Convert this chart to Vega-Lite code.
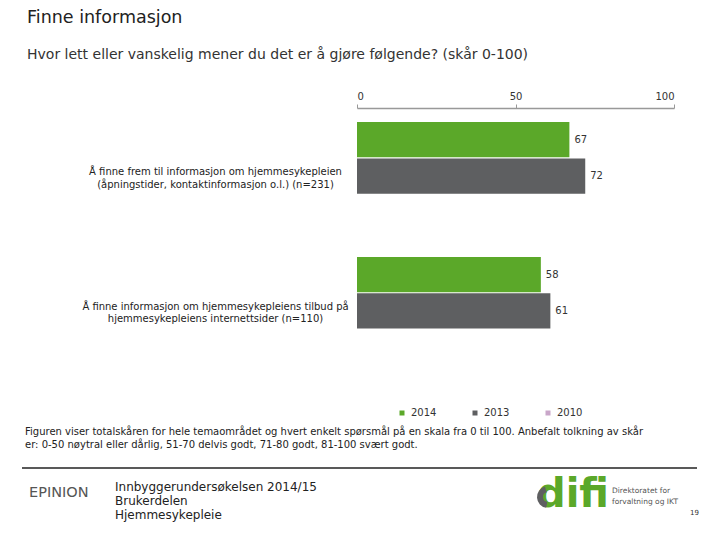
{
  "$schema": "https://vega.github.io/schema/vega-lite/v6.json",
  "autosize": "none",
  "width": 317,
  "height": 271,
  "padding": {"left": 357, "top": 108, "right": 46, "bottom": 161},
  "background": "white",
  "config": {"view": {"stroke": null}, "font": "DejaVu Sans"},
  "title": {
    "text": "Finne informasjon",
    "subtitle": "Hvor lett eller vanskelig mener du det er å gjøre følgende? (skår 0-100)",
    "anchor": "start",
    "frame": "group",
    "dx": -330,
    "offset": 29,
    "fontSize": 17.5,
    "fontWeight": "normal",
    "color": "#222222",
    "subtitleFontSize": 14,
    "subtitleColor": "#333333",
    "subtitlePadding": 22
  },
  "layer": [
    {
      "data": {"values": [
        {"item": "Å finne frem til informasjon om hjemmesykepleien|(åpningstider, kontaktinformasjon o.l.) (n=231)", "year": "2014", "score": 67},
        {"item": "Å finne frem til informasjon om hjemmesykepleien|(åpningstider, kontaktinformasjon o.l.) (n=231)", "year": "2013", "score": 72},
        {"item": "Å finne informasjon om hjemmesykepleiens tilbud på|hjemmesykepleiens internettsider (n=110)", "year": "2014", "score": 58},
        {"item": "Å finne informasjon om hjemmesykepleiens tilbud på|hjemmesykepleiens internettsider (n=110)", "year": "2013", "score": 61}
      ]},
      "layer": [
        {
          "mark": {"type": "bar"},
          "encoding": {
            "x": {"field": "score", "type": "quantitative",
              "scale": {"domain": [0, 100]},
              "axis": {"orient": "top", "values": [0, 50, 100], "grid": false, "title": null,
                "domainColor": "#999999", "domainWidth": 1.5, "tickColor": "#999999", "tickSize": 4,
                "labelFontSize": 10, "labelColor": "#333333", "labelPadding": 3}},
            "y": {"field": "item", "type": "nominal", "sort": null,
              "scale": {"paddingInner": 0.2, "paddingOuter": 0.104},
              "axis": {"title": null, "domain": false, "ticks": false,
                "labelExpr": "split(datum.label, '|')", "labelAlign": "center",
                "labelPadding": 142, "labelFontSize": 10, "labelLineHeight": 12.5,
                "labelColor": "#222222", "labelLimit": 400, "labelBaseline": "middle", "labelOffset": -4}},
            "yOffset": {"field": "year", "type": "nominal",
              "scale": {"domain": ["2014", "2013", "2010"], "paddingInner": 0.03}},
            "color": {"field": "year", "type": "nominal",
              "scale": {"domain": ["2014", "2013", "2010"], "range": ["#5BA829", "#5E5F61", "#C9A6C9"]},
              "legend": {"orient": "none", "legendX": 40, "legendY": 300, "direction": "horizontal",
                "title": null, "symbolType": "square", "symbolSize": 25, "labelFontSize": 10,
                "labelColor": "#333333", "columnPadding": 33}}
          }
        },
        {
          "mark": {"type": "text", "align": "left", "dx": 5, "fontSize": 10, "color": "#333333"},
          "encoding": {
            "x": {"field": "score", "type": "quantitative"},
            "y": {"field": "item", "type": "nominal", "sort": null},
            "yOffset": {"field": "year", "type": "nominal"},
            "text": {"field": "score", "type": "quantitative"}
          }
        }
      ]
    },
    {
      "data": {"values": [{"t": ["Figuren viser totalskåren for hele temaområdet og hvert enkelt spørsmål på en skala fra 0 til 100. Anbefalt tolkning av skår", "er: 0-50 nøytral eller dårlig, 51-70 delvis godt, 71-80 godt, 81-100 svært godt."]}]},
      "mark": {"type": "text", "align": "left", "baseline": "middle", "fontSize": 10, "lineHeight": 13, "color": "#222222"},
      "encoding": {"x": {"value": -332}, "y": {"value": 324}, "text": {"field": "t"}}
    },
    {
      "data": {"values": [{"t": "line"}]},
      "mark": {"type": "rule", "color": "#222222", "strokeWidth": 1.5},
      "encoding": {"x": {"value": -335}, "x2": {"value": 340}, "y": {"value": 360}}
    },
    {
      "data": {"values": [{"t": "EPINION"}]},
      "mark": {"type": "text", "align": "left", "baseline": "middle", "fontSize": 14.5, "color": "#555555"},
      "encoding": {"x": {"value": -328}, "y": {"value": 385}, "text": {"field": "t"}}
    },
    {
      "data": {"values": [{"t": ["Innbyggerundersøkelsen 2014/15", "Brukerdelen", "Hjemmesykepleie"]}]},
      "mark": {"type": "text", "align": "left", "baseline": "middle", "fontSize": 12, "lineHeight": 14, "color": "#222222"},
      "encoding": {"x": {"value": -242}, "y": {"value": 379}, "text": {"field": "t"}}
    },
    {
      "data": {"values": [{"t": "difi"}]},
      "mark": {"type": "text", "align": "left", "baseline": "alphabetic", "fontSize": 40, "fontWeight": "bold", "color": "#5BA829"},
      "encoding": {"x": {"value": 180}, "y": {"value": 399}, "text": {"field": "t"}}
    },
    {
      "data": {"values": [{"t": "emblem"}]},
      "mark": {"type": "arc", "color": "#5E5F61"},
      "encoding": {"x": {"value": 191}, "y": {"value": 389}, "theta": {"value": 3.3}, "theta2": {"value": 6.0}, "radius": {"value": 11}, "radius2": {"value": 5}}
    },
    {
      "data": {"values": [{"t": ["Direktoratet for", "forvaltning og IKT"]}]},
      "mark": {"type": "text", "align": "left", "baseline": "middle", "fontSize": 7.5, "lineHeight": 11, "color": "#555555"},
      "encoding": {"x": {"value": 255}, "y": {"value": 383}, "text": {"field": "t"}}
    },
    {
      "data": {"values": [{"t": "19"}]},
      "mark": {"type": "text", "align": "left", "baseline": "middle", "fontSize": 7, "color": "#333333"},
      "encoding": {"x": {"value": 333}, "y": {"value": 405}, "text": {"field": "t"}}
    }
  ]
}
